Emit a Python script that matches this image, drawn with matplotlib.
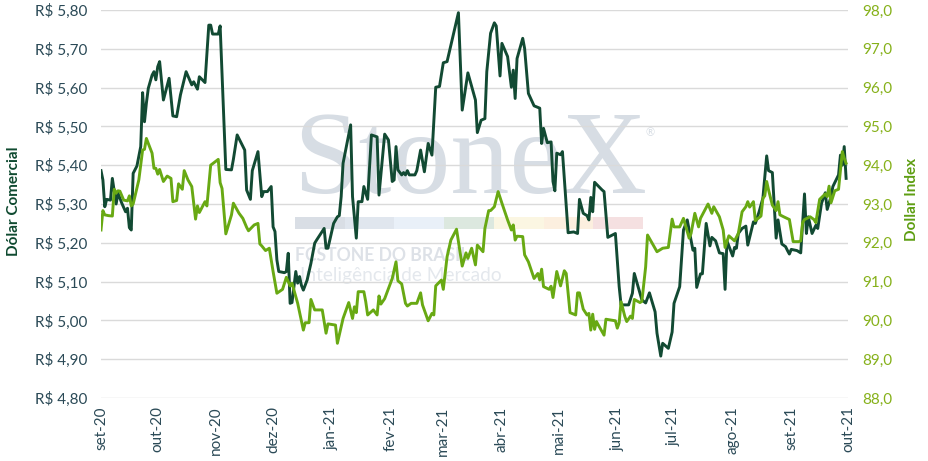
import numpy as np
import pandas as pd
import matplotlib
matplotlib.use("Agg")
import matplotlib.pyplot as plt
from matplotlib.patches import Rectangle

plt.rcParams['font.family'] = ['Lato', 'DejaVu Sans']

start = pd.Timestamp('2020-09-01')

# Dólar comercial (R$), days counted from 2020-09-01
dc_days = [0, 1, 2, 3, 5, 6, 8, 9, 11, 13, 14, 15, 16, 17, 19, 21, 22, 23, 24, 25,
           27, 28, 29, 30, 31, 33, 36, 38, 40, 42, 45, 48, 49, 51, 52, 55, 57, 58, 59, 62,
           63, 66, 69, 70, 72, 76, 77, 79, 80, 83, 85, 86, 88, 90, 91, 92, 93, 94, 97, 98,
           99, 100, 101, 103, 104, 105, 106, 107, 109, 111, 113, 114, 118, 119, 120, 123, 125, 126, 127, 128,
           132, 133, 135, 136, 138, 139, 141, 143, 146, 147, 150, 152, 154, 155, 156, 157, 159, 160, 161, 162,
           163, 166, 167, 169, 171, 173, 175, 177, 179, 181, 183, 189, 191, 194, 198, 199, 201, 203, 204, 206,
           208, 209, 211, 212, 215, 217, 218, 219, 220, 223, 224, 226, 229, 232, 233, 234, 236, 238, 239, 240,
           241, 243, 244, 247, 250, 252, 253, 255, 257, 258, 259, 260, 261, 265, 266, 268, 272, 274, 275, 279,
           281, 282, 284, 286, 288, 290, 293, 294, 296, 297, 300, 302, 303, 306, 308, 310, 313, 314, 315, 317,
           318, 320, 322, 323, 325, 327, 329, 330, 331, 334, 335, 336, 337, 339, 341, 342, 345, 346, 348, 350,
           352, 353, 355, 357, 358, 360, 362, 363, 364, 365, 368, 370, 372, 373, 374, 376, 378, 379, 381, 383,
           384, 386, 387, 390, 391, 392, 393, 394]
dc_vals = [5.386, 5.362, 5.293, 5.312, 5.310, 5.366, 5.300, 5.328, 5.302, 5.280, 5.289, 5.239, 5.233, 5.379, 5.398, 5.448, 5.587, 5.512, 5.560, 5.598,
           5.632, 5.641, 5.620, 5.654, 5.667, 5.568, 5.624, 5.527, 5.525, 5.581, 5.641, 5.607, 5.615, 5.596, 5.628, 5.613, 5.761, 5.761, 5.738, 5.738,
           5.759, 5.389, 5.388, 5.415, 5.478, 5.439, 5.336, 5.312, 5.386, 5.435, 5.319, 5.332, 5.332, 5.345, 5.241, 5.229, 5.156, 5.126, 5.123, 5.126,
           5.173, 5.044, 5.046, 5.126, 5.096, 5.113, 5.090, 5.078, 5.104, 5.147, 5.199, 5.207, 5.237, 5.186, 5.186, 5.250, 5.267, 5.270, 5.319, 5.405,
           5.504, 5.319, 5.212, 5.306, 5.306, 5.345, 5.312, 5.478, 5.473, 5.323, 5.480, 5.465, 5.358, 5.362, 5.448, 5.388, 5.375, 5.381, 5.375, 5.386,
           5.375, 5.375, 5.386, 5.439, 5.383, 5.456, 5.426, 5.601, 5.603, 5.664, 5.667, 5.793, 5.542, 5.638, 5.568, 5.484, 5.516, 5.520, 5.641, 5.740,
           5.767, 5.759, 5.630, 5.714, 5.680, 5.601, 5.645, 5.572, 5.675, 5.727, 5.701, 5.585, 5.553, 5.547, 5.456, 5.495, 5.458, 5.460, 5.358, 5.334,
           5.431, 5.427, 5.435, 5.226, 5.228, 5.224, 5.312, 5.276, 5.270, 5.259, 5.317, 5.280, 5.356, 5.336, 5.332, 5.214, 5.224, 5.087, 5.040, 5.040,
           5.070, 5.121, 5.087, 5.053, 5.045, 5.071, 5.022, 4.967, 4.908, 4.941, 4.928, 4.970, 5.044, 5.087, 5.233, 5.259, 5.181, 5.186, 5.085, 5.120,
           5.120, 5.250, 5.192, 5.214, 5.205, 5.174, 5.172, 5.080, 5.205, 5.166, 5.188, 5.186, 5.224, 5.237, 5.243, 5.194, 5.254, 5.250, 5.280, 5.315,
           5.424, 5.386, 5.381, 5.212, 5.259, 5.197, 5.190, 5.180, 5.171, 5.183, 5.180, 5.174, 5.326, 5.224, 5.267, 5.224, 5.245, 5.237, 5.302, 5.329,
           5.286, 5.319, 5.345, 5.375, 5.426, 5.400, 5.448, 5.366]

# Dollar Index (DXY), days counted from 2020-09-01
di_days = [0, 1, 2, 4, 6, 7, 8, 9, 10, 12, 14, 15, 16, 17, 20, 22, 23, 24, 27, 28,
           29, 30, 31, 33, 35, 37, 38, 40, 41, 43, 44, 46, 48, 50, 51, 52, 55, 56, 58, 62,
           63, 64, 66, 69, 70, 73, 75, 77, 78, 81, 83, 84, 85, 87, 89, 91, 93, 96, 98, 100,
           101, 104, 107, 108, 110, 111, 113, 117, 119, 120, 124, 125, 128, 131, 133, 134, 135, 136, 139, 140,
           141, 144, 146, 147, 148, 150, 154, 156, 157, 159, 161, 162, 164, 167, 169, 170, 173, 175, 176, 177,
           180, 181, 183, 185, 188, 191, 193, 194, 196, 198, 199, 202, 203, 205, 206, 208, 210, 212, 215, 217,
           218, 219, 220, 223, 224, 226, 229, 231, 232, 233, 234, 237, 238, 239, 241, 243, 245, 246, 248, 251,
           252, 253, 255, 257, 258, 259, 260, 261, 262, 263, 266, 267, 272, 273, 274, 275, 277, 278, 280, 281,
           282, 285, 286, 288, 289, 294, 297, 300, 302, 303, 306, 308, 311, 312, 314, 316, 317, 321, 323, 324,
           327, 329, 330, 332, 335, 337, 339, 341, 342, 343, 345, 346, 349, 350, 351, 352, 353, 355, 357, 358,
           359, 361, 364, 366, 369, 370, 371, 372, 375, 377, 378, 380, 383, 384, 385, 386, 388, 390, 392, 393,
           394]
di_vals = [92.33, 92.83, 92.72, 92.70, 92.69, 93.38, 93.28, 93.34, 93.33, 93.10, 93.08, 93.21, 92.95, 93.00, 93.62, 94.39, 94.41, 94.69, 94.31, 93.92,
           93.92, 93.77, 93.89, 93.58, 93.72, 93.66, 93.06, 93.09, 93.52, 93.38, 93.86, 93.62, 93.45, 92.61, 92.95, 92.78, 93.06, 92.95, 94.00, 94.15,
           93.55, 93.40, 92.23, 92.72, 93.02, 92.76, 92.63, 92.40, 92.31, 92.46, 92.50, 91.97, 91.92, 91.80, 91.86, 91.26, 90.70, 90.80, 91.11, 90.89,
           90.96, 90.44, 89.75, 89.94, 89.94, 90.54, 90.27, 90.27, 89.67, 89.91, 89.88, 89.41, 90.05, 90.46, 90.05, 90.35, 90.20, 90.74, 90.74, 90.48,
           90.14, 90.27, 90.14, 90.63, 90.42, 90.56, 91.08, 91.51, 91.02, 90.94, 90.44, 90.37, 90.44, 90.44, 90.71, 90.40, 89.99, 90.18, 90.14, 90.89,
           91.04, 90.80, 91.64, 92.07, 92.35, 91.40, 91.74, 91.60, 91.86, 91.43, 91.94, 91.77, 92.37, 92.83, 92.83, 92.93, 93.32, 93.02, 92.59, 92.33,
           92.46, 92.07, 92.17, 92.16, 91.69, 91.51, 91.08, 91.21, 91.04, 91.32, 90.87, 90.80, 90.88, 90.59, 91.26, 90.89, 91.28, 91.21, 90.20, 90.14,
           90.71, 90.71, 90.29, 90.14, 90.18, 89.75, 90.16, 89.77, 89.97, 89.88, 89.62, 90.03, 89.99, 89.80, 89.94, 90.48, 90.10, 89.97, 90.11, 90.05,
           90.54, 90.46, 90.49, 91.38, 92.20, 91.77, 91.86, 91.88, 92.61, 92.41, 92.41, 92.63, 92.12, 92.24, 92.76, 92.41, 92.63, 93.00, 92.76, 92.93,
           92.67, 92.33, 91.88, 92.18, 92.05, 92.24, 92.80, 92.93, 93.06, 92.92, 93.06, 92.57, 92.69, 93.15, 93.21, 93.58, 93.36, 92.97, 92.83, 93.06,
           92.72, 92.67, 92.60, 92.03, 92.03, 92.05, 92.52, 92.60, 92.67, 92.60, 92.52, 93.12, 93.26, 93.19, 93.46, 93.03, 93.34, 93.38, 94.35, 94.18,
           94.05]

month_labels = ['set-20', 'out-20', 'nov-20', 'dez-20', 'jan-21', 'fev-21', 'mar-21',
                'abr-21', 'mai-21', 'jun-21', 'jul-21', 'ago-21', 'set-21', 'out-21']
left_ticks = [4.80, 4.90, 5.00, 5.10, 5.20, 5.30, 5.40, 5.50, 5.60, 5.70, 5.80]
right_ticks = [88, 89, 90, 91, 92, 93, 94, 95, 96, 97, 98]

dc_dates = start + pd.to_timedelta(dc_days, unit='D')
di_dates = start + pd.to_timedelta(di_days, unit='D')
month_ticks = pd.date_range('2020-09-01', '2021-10-01', freq='MS')

DARK = '#124a33'
LIGHT = '#68a913'
TICK_LEFT = '#2b4a57'
TICK_RIGHT = '#86b11a'

fig = plt.figure(figsize=(9.29, 4.61), dpi=100)
ax = fig.add_axes([101 / 929, 63 / 461, 747 / 929, 388 / 461])
ax2 = ax.twinx()

# watermark behind the lines
ax.text(293 / 929, 1 - 193 / 461, 'StoneX', transform=fig.transFigure,
        family='Liberation Serif', fontsize=85, color='#d7dde4', zorder=0.5,
        ha='left', va='baseline')
ax.text(646 / 929, 1 - 133 / 461, '®', transform=fig.transFigure,
        fontsize=8, color='#d7dde4', zorder=0.5, ha='left', va='center')
bar_colors = ['#d9dee5', '#e0e6ee', '#e9f0f8', '#dce8df', '#fbf6e2', '#fcefdf', '#f5e0e1']
for i, c in enumerate(bar_colors):
    ax.add_patch(Rectangle(((295 + i * 49.7) / 929, 1 - 229 / 461), 49.7 / 929, 12 / 461,
                           transform=fig.transFigure, color=c, zorder=0.4, lw=0))
ax.text(295 / 929, 1 - 261 / 461, 'FCSTONE DO BRASIL', transform=fig.transFigure,
        fontsize=12.7, fontweight='bold', color='#dde1e7', zorder=0.5,
        ha='left', va='baseline')
ax.text(300 / 929, 1 - 281 / 461, 'Inteligência de Mercado', transform=fig.transFigure,
        fontsize=13.8, color='#e4e8ed', zorder=0.5, ha='left', va='baseline')

ax.plot(dc_dates, dc_vals, color=DARK, lw=2.1, zorder=3)
ax2.plot(di_dates, di_vals, color=LIGHT, lw=2.1, zorder=3)

ax.set_xlim(month_ticks[0], month_ticks[-1])
ax.set_ylim(4.80, 5.80)
ax2.set_ylim(88, 98)

ax.set_yticks(left_ticks)
ax.set_yticklabels(['R$ ' + f'{v:.2f}'.replace('.', ',') for v in left_ticks],
                   color=TICK_LEFT, fontsize=11)
ax2.set_yticks(right_ticks)
ax2.set_yticklabels([f'{v:.1f}'.replace('.', ',') for v in right_ticks],
                    color=TICK_RIGHT, fontsize=11)
ax.set_xticks(month_ticks)
ax.set_xticklabels(month_labels, rotation=90, color=TICK_LEFT, fontsize=11)

ax.grid(axis='y', color='#dadada', lw=1)
ax.set_axisbelow(True)
ax.tick_params(axis='both', length=0)
ax.tick_params(axis='y', pad=10)
ax.tick_params(axis='x', pad=6)
ax2.tick_params(axis='y', length=0, pad=10)
for a in (ax, ax2):
    for s in a.spines.values():
        s.set_visible(False)

fig.text(14 / 929, 1 - 201 / 461, 'Dólar Comercial', rotation=90, fontsize=11,
         fontweight='bold', color='#0f4a30', ha='center', va='center')
fig.text(912 / 929, 1 - 199 / 461, 'Dollar Index', rotation=90, fontsize=11,
         fontweight='bold', color='#5e9e12', ha='center', va='center')

fig.savefig('out.png', dpi=100)
